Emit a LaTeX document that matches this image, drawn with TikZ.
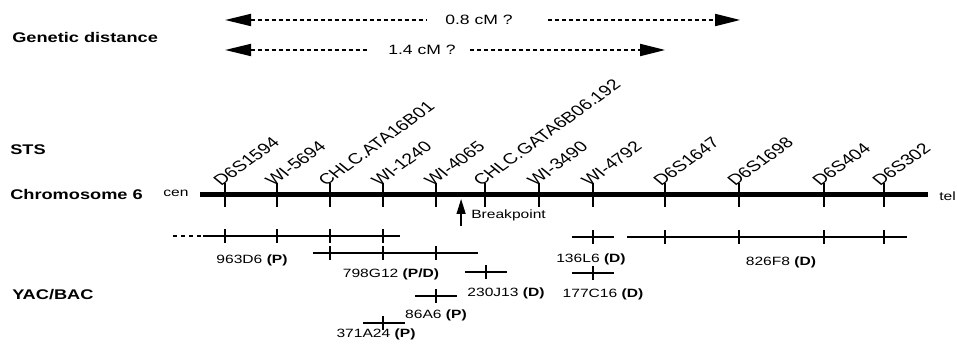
\documentclass[tikz,border=0pt]{standalone}
\usepackage{fontspec}
\setmainfont{Liberation Sans}
\usetikzlibrary{arrows.meta}
\begin{document}
\begin{tikzpicture}[x=0.769231pt, y=-1pt, xscale=1.3,
  every node/.style={transform shape, inner sep=0pt},
  title/.style={font=\fontsize{14}{16}\selectfont\bfseries, anchor=west},
  small/.style={font=\fontsize{12}{14}\selectfont},
  midtxt/.style={font=\fontsize{13.5}{16}\selectfont},
  stslab/.style={font=\fontsize{15}{17}\selectfont, rotate=43, anchor=base west},
  chrom/.style={line width=5pt},
  ctick/.style={line width=2pt},
  clone/.style={line width=1.6pt},
  ytick/.style={line width=1.6pt},
  dist/.style={line width=1.8pt, dash pattern=on 4pt off 3pt},
  lefthead/.style={{Triangle[length=26pt,width=12pt]}-},
  righthead/.style={-{Triangle[length=25pt,width=12pt]}},
]
\useasboundingbox (0,0) rectangle (957,347);

% titles
\node[title] (gd) at (12,37) {Genetic distance};
\node[title] (sts) at (10,150) {STS};
\node[title] (chr) at (10,194) {Chromosome 6};
\node[title] (yac) at (12,295) {YAC/BAC};

% genetic distance arrows
\node[midtxt] (d08) at (479,20) {0.8 cM ?};
\node[midtxt] (d14) at (422,50) {1.4 cM ?};
\coordinate (a1L) at (225,20); \coordinate (a1l) at (427,20);
\coordinate (a1r) at (548,20); \coordinate (a1R) at (740,20);
\coordinate (a2L) at (225,50); \coordinate (a2l) at (368,50);
\coordinate (a2r) at (470,50); \coordinate (a2R) at (665,50);
\draw[dist, lefthead] (a1L) -- (a1l);
\draw[dist, righthead] (a1r) -- (a1R);
\draw[dist, lefthead] (a2L) -- (a2l);
\draw[dist, righthead] (a2r) -- (a2R);

% chromosome
\node[small] (cen) at (176,193) {cen};
\node[small, anchor=west] (tel) at (939,196) {tel};
\coordinate (cA) at (200,195); \coordinate (cB) at (928,195);
\draw[chrom] (cA) -- (cB);
\foreach \x in {225,277,330,383,436,485,539,593,665,739,824,884}
  \draw[ctick] (\x,183) -- (\x,207);

% STS labels
\node[stslab] (s1) at (221,187) {D6S1594};
\node[stslab] (s2) at (273,187) {WI-5694};
\node[stslab] (s3) at (326,187) {CHLC.ATA16B01};
\node[stslab] (s4) at (379,187) {WI-1240};
\node[stslab] (s5) at (432,187) {WI-4065};
\node[stslab] (s6) at (481,187) {CHLC.GATA6B06.192};
\node[stslab] (s7) at (535,187) {WI-3490};
\node[stslab] (s8) at (589,187) {WI-4792};
\node[stslab] (s9) at (661,187) {D6S1647};
\node[stslab] (s10) at (735,187) {D6S1698};
\node[stslab] (s11) at (820,187) {D6S404};
\node[stslab] (s12) at (880,187) {D6S302};

% breakpoint
\coordinate (bpT) at (461,199); \coordinate (bpB) at (461,226);
\draw[line width=1.3pt, -{Triangle[length=15pt,width=9pt]}] (bpB) -- (bpT);
\node[small, anchor=west] (bp) at (471,215) {Breakpoint};

% clones
\coordinate (k1d) at (173,236); \coordinate (k1a) at (203,236); \coordinate (k1b) at (400,236);
\draw[clone, dash pattern=on 4pt off 4pt] (k1d) -- (k1a);
\draw[clone] (k1a) -- (k1b);
\foreach \x in {225,277,330,383} \draw[ytick] (\x,229) -- (\x,243);
\node[small] (n963) at (252,260) {963D6 \textbf{(P)}};

\coordinate (k2a) at (313,253); \coordinate (k2b) at (478,253);
\draw[clone] (k2a) -- (k2b);
\foreach \x in {330,383,436} \draw[ytick] (\x,246) -- (\x,260);
\node[small] (n798) at (391,274) {798G12 \textbf{(P/D)}};

\coordinate (k3a) at (465,272); \coordinate (k3b) at (507,272);
\draw[clone] (k3a) -- (k3b);
\draw[ytick] (486,265) -- (486,279);
\node[small] (n230) at (506,293) {230J13 \textbf{(D)}};

\coordinate (k4a) at (415,296); \coordinate (k4b) at (457,296);
\draw[clone] (k4a) -- (k4b);
\draw[ytick] (436,289) -- (436,303);
\node[small] (n86) at (436,315) {86A6 \textbf{(P)}};

\coordinate (k5a) at (363,323); \coordinate (k5b) at (405,323);
\draw[clone] (k5a) -- (k5b);
\draw[ytick] (383,316) -- (383,330);
\node[small] (n371) at (376,334) {371A24 \textbf{(P)}};

\coordinate (k6a) at (572,237); \coordinate (k6b) at (614,237);
\draw[clone] (k6a) -- (k6b);
\draw[ytick] (593,230) -- (593,244);
\node[small] (n136) at (591,259) {136L6 \textbf{(D)}};

\coordinate (k7a) at (572,273); \coordinate (k7b) at (614,273);
\draw[clone] (k7a) -- (k7b);
\draw[ytick] (593,266) -- (593,280);
\node[small] (n177) at (603,294) {177C16 \textbf{(D)}};

\coordinate (k8a) at (627,237); \coordinate (k8b) at (907,237);
\draw[clone] (k8a) -- (k8b);
\foreach \x in {665,739,824,884} \draw[ytick] (\x,230) -- (\x,244);
\node[small] (n826) at (781,262) {826F8 \textbf{(D)}};
\end{tikzpicture}
\end{document}
